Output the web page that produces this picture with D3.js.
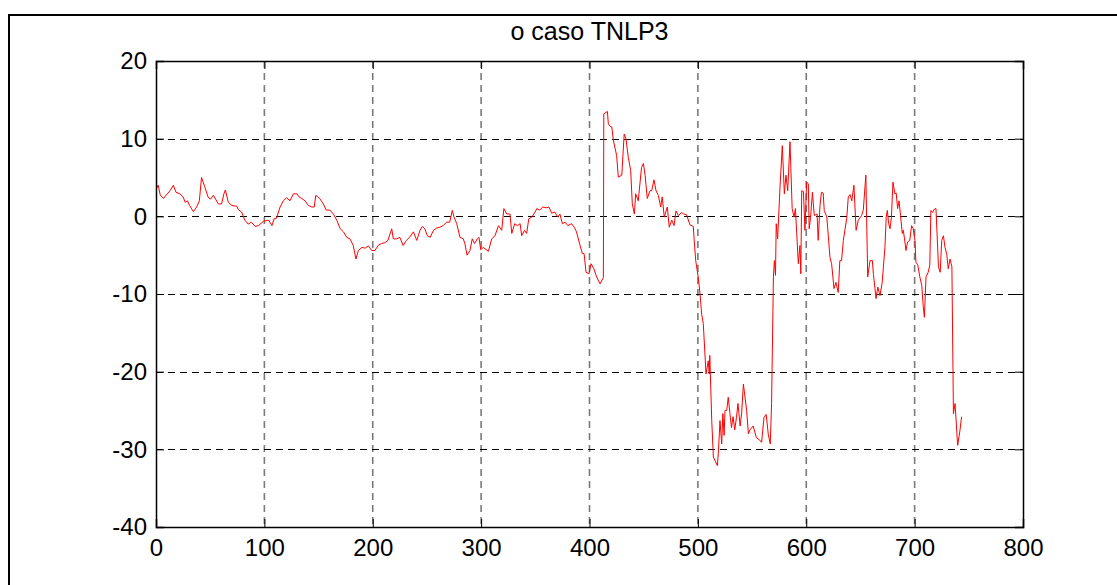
<!DOCTYPE html>
<html>
<head>
<meta charset="utf-8">
<script src="https://cdn.jsdelivr.net/npm/d3@7"></script>
<style>
  body { margin: 0; background: #fff; }
  text { font-family: "Liberation Sans", Arial, sans-serif; fill: #000; }
</style>
</head>
<body>
<div id="chart"></div>
<script>
"use strict";

const title = "o caso TNLP3";
const xTicks = [0, 100, 200, 300, 400, 500, 600, 700, 800];
const yTicks = [-40, -30, -20, -10, 0, 10, 20];

// sample index
const xs = [0, 2, 4, 7, 8, 13, 16, 18.5, 22, 25, 27, 29, 31, 34.5, 37.5, 40, 42, 45, 48, 50,
  53, 57.5, 60.5, 62.7, 64, 66.7, 70, 74.5, 76, 79, 82, 85, 88, 91.5, 94.5, 99, 104, 107, 109, 111,
  114.5, 117.5, 120.5, 123.6, 126.8, 130, 132, 134.5, 137.5, 140.6, 143.7, 146, 147.4, 151, 154.4, 157, 160.5, 163.7, 166.8, 170,
  173, 176, 179, 182, 184.5, 186.7, 190, 193, 196, 199, 202, 205, 208, 211, 214, 217.5, 219, 222, 225, 228,
  231, 234, 237.5, 240.6, 243.6, 245.7, 248, 250.4, 253, 256, 259, 262, 265, 268, 271, 273.4, 275, 277.5, 280.5, 283.5,
  285, 287, 289.7, 291.8, 294, 296.5, 298, 299.6, 302, 306.7, 309.8, 312.8, 316, 319, 321, 323.6, 326.6, 328.3, 331, 333.5,
  336, 337.4, 340, 342, 344, 346.7, 349.8, 351.4, 354, 357, 360, 362.6, 365, 368, 370.7, 372.7, 375, 377.5, 380, 383.5,
  386, 388, 391, 393.4, 395, 396.8, 399.5, 401.4, 404, 406.6, 409.7, 412.8, 413.2, 416.5, 417.4, 419, 420.6, 422, 425, 426.6,
  429.8, 432, 433.6, 435.8, 438, 439.5, 441.4, 442.6, 445, 448, 449.7, 451.3, 453.3, 455.8, 457.4, 459.5, 461.4, 463.5, 465.7, 467.1,
  469, 471.8, 473.6, 475.9, 478, 479.8, 482, 485, 487, 489.6, 492.7, 495.8, 496.4, 498, 500.5, 502, 503.5, 505, 507.5, 509.6,
  510.5, 511, 512.8, 514.3, 518, 519, 520.4, 522, 523, 524.2, 525, 526.6, 528, 529.6, 531, 532.5, 534, 535.6, 537, 539,
  540.4, 542, 545, 546.6, 548, 551, 554, 557, 558.8, 561, 563, 565, 566.8, 568, 569.7, 570.6, 571.6, 572.3, 573.6, 575.8,
  577.9, 579.8, 581.3, 582.9, 585, 587, 588.7, 590, 591.2, 592.7, 594.2, 595, 595.8, 597.4, 598.8, 600.4, 601.9, 602.7, 604, 605.7,
  607.4, 610, 611, 612.7, 614, 615.6, 616.6, 619, 621.9, 623.4, 625.6, 627.4, 629.5, 631, 632.6, 634.2, 637.3, 638.8, 640.4, 642,
  644, 646, 648, 651, 652.6, 655, 656.7, 658.8, 661, 662, 663.4, 664.4, 666, 668, 670, 672.6, 673.8, 674.8, 676, 677.3,
  678.6, 680, 681.8, 683, 684.3, 685.6, 687, 688.6, 689.5, 690.5, 692, 693.5, 695.5, 697.2, 698.7, 700.3, 701.2, 703, 704.8, 706.6,
  708, 709, 710.5, 712.5, 714, 715, 716.6, 718, 719.7, 722, 723.6, 725, 726.6, 728, 729.7, 731, 732.7, 734.4, 735.8, 737.3,
  739.7, 741.8, 743.3];

const ys = [3.5, 4.0, 2.7, 2.3, 2.5, 3.3, 4.0, 3.1, 2.9, 2.5, 1.8, 2.0, 1.4, 0.6, 1.2, 2.0, 5.0, 3.8, 2.5, 2.2,
  2.7, 1.6, 1.6, 2.9, 3.4, 1.8, 1.4, 1.3, 0.85, 0.55, -0.5, -1.0, -0.75, -1.3, -1.2, -0.65, -0.5, -1.2, -0.3, -0.3,
  1.2, 2.0, 2.4, 2.0, 2.9, 2.9, 2.5, 2.3, 2.0, 1.4, 1.2, 1.2, 2.7, 2.3, 1.6, 0.8, 0.8, 0.3, -0.5, -1.6,
  -2.0, -2.7, -2.9, -3.75, -5.5, -4.4, -4.0, -4.1, -3.8, -4.4, -4.4, -3.75, -3.5, -3.4, -3.1, -1.6, -2.9, -2.9, -2.7, -3.75,
  -3.1, -2.7, -2.0, -3.1, -1.8, -1.3, -1.6, -2.5, -2.7, -1.8, -1.5, -1.4, -1.2, -0.75, -0.75, 0.76, -0.1, -0.95, -2.7, -2.9,
  -3.5, -5.0, -4.4, -2.9, -3.5, -2.9, -2.7, -4.3, -4.0, -4.5, -2.9, -2.5, -1.2, -1.8, 1.0, 0.3, 0.3, -2.2, -0.95, -1.2,
  -0.95, -2.5, -1.8, -2.2, -0.3, -0.1, 0.55, 1.0, 0.8, 1.2, 1.1, 1.2, 0.4, 0.55, -0.1, 0.3, -0.95, -0.75, -1.2, -0.95,
  -1.4, -2.0, -3.6, -4.8, -4.8, -7.2, -7.4, -6.1, -6.75, -7.8, -8.7, -7.9, 13.2, 13.5, 11.9, 11.6, 11.5, 9.8, 7.85, 5.05,
  5.3, 10.6, 10.0, 7.6, 5.9, 1.6, 0.3, 2.9, 2.0, 6.3, 6.8, 5.3, 2.3, 3.3, 3.3, 4.7, 3.3, 2.7, 1.2, 2.5,
  -0.1, 1.2, -1.4, -0.5, -1.2, 0.7, 0.1, 0.5, 0.3, 0.2, -1.1, -1.3, -2.7, -5.7, -8.0, -10, -12.6, -13.8, -20.3, -18.6,
  -20.3, -17.9, -26.3, -31, -32.1, -30.2, -26.3, -29.3, -25.4, -28.2, -25, -25, -23.3, -25.4, -27.2, -25.8, -27.5, -25.9, -24.1, -27,
  -25.3, -21.6, -25, -28, -27.5, -27, -28.5, -28.8, -29.1, -25.9, -25.5, -28.1, -29.3, -24.1, -7.8, -5.7, -7.6, -0.95, -2.9, 3.8,
  9.1, 2.9, 5.3, 3.3, 9.6, 1.0, -0.1, 1.0, -2.2, -6.1, -3.75, -7.4, 3.3, 3.2, -1.8, 4.4, 4.2, -1.6, -0.1, 3.1,
  0.1, 0.3, -3.1, 1.4, 3.1, 3.0, 0.76, -0.1, -5.3, -6.1, -9.3, -8.5, -9.8, -5.7, -5.7, -3.1, -0.3, 2.5, 2.8, 2.0,
  4.0, -1.8, -0.5, 0.1, 0.76, 5.3, -7.8, -5.7, -5.7, -7.5, -9.3, -10.6, -9.1, -10.2, -8.6, -4.0, -0.1, 0.76, -0.9, -1.6,
  -0.1, 4.4, 2.9, 3.0, 1.0, 2.0, 0.1, -2.2, -1.8, -2.7, -4.4, -3.3, -3.1, -1.2, -1.6, -3.1, -5.9, -6.3, -7.8, -8.9,
  -11.7, -13.0, -7.8, -7.2, -6.3, 0.76, 0.5, 0.9, 1.0, -6.5, -7.2, -3.1, -2.5, -4.0, -4.9, -6.75, -5.5, -6.5, -25.4, -24.1,
  -29.5, -27.6, -25.8];

const size = {
  width: 1117,
  height: 585,
  left: 156,
  right: 1023,
  top: 61,
  bottom: 527
};

const svg = d3.select("#chart")
  .append("svg")
  .attr("width", size.width)
  .attr("height", size.height);

// figure frame
svg.append("rect")
  .attr("x", 9).attr("y", 15)
  .attr("width", 1130).attr("height", 600)
  .attr("fill", "none")
  .attr("stroke", "#000")
  .attr("stroke-width", 2);

const x = d3.scaleLinear().domain([0, 800]).range([size.left, size.right]);
const y = d3.scaleLinear().domain([-40, 20]).range([size.bottom, size.top]);

// grid
svg.append("g").selectAll("line")
  .data(xTicks.slice(1, -1))
  .join("line")
  .attr("x1", d => x(d)).attr("x2", d => x(d))
  .attr("y1", size.top).attr("y2", size.bottom)
  .attr("stroke", "#7a7a7a")
  .attr("stroke-width", 1.6)
  .attr("stroke-dasharray", "7,5");

svg.append("g").selectAll("line")
  .data(yTicks.slice(1, -1))
  .join("line")
  .attr("x1", size.left).attr("x2", size.right)
  .attr("y1", d => Math.round(y(d)) + 0.5).attr("y2", d => Math.round(y(d)) + 0.5)
  .attr("stroke", "#000")
  .attr("stroke-width", 1)
  .attr("stroke-dasharray", "7,5");

// data line
const line = d3.line()
  .x((d, i) => x(xs[i]))
  .y(d => y(d));

svg.append("path")
  .datum(ys)
  .attr("fill", "none")
  .attr("stroke", "#ff0000")
  .attr("stroke-width", 1)
  .attr("d", line);

// axes, ticks inward like matlab, plain hyphen for minus
const tick = 8;
const plain = d => String(d);
svg.append("g")
  .attr("transform", "translate(0," + size.bottom + ")")
  .call(d3.axisBottom(x).tickValues(xTicks).tickSize(-tick).tickPadding(12).tickFormat(plain));
svg.append("g")
  .attr("transform", "translate(0," + size.top + ")")
  .call(d3.axisTop(x).tickValues(xTicks).tickSize(-tick).tickFormat(""));
svg.append("g")
  .attr("transform", "translate(" + size.left + ",0)")
  .call(d3.axisLeft(y).tickValues(yTicks).tickSize(-tick).tickPadding(9).tickFormat(plain));
svg.append("g")
  .attr("transform", "translate(" + size.right + ",0)")
  .call(d3.axisRight(y).tickValues(yTicks).tickSize(-tick).tickFormat(""));

svg.selectAll(".domain").attr("stroke", "#000").attr("stroke-width", 1.5);
svg.selectAll(".tick line").attr("stroke", "#000");
svg.selectAll(".tick text")
  .style("font-family", "'Liberation Sans', Arial, sans-serif")
  .style("font-size", "24px")
  .attr("fill", "#000");

svg.append("text")
  .attr("x", (size.left + size.right) / 2)
  .attr("y", 40)
  .attr("text-anchor", "middle")
  .style("font-size", "25px")
  .text(title);
</script>
</body>
</html>
